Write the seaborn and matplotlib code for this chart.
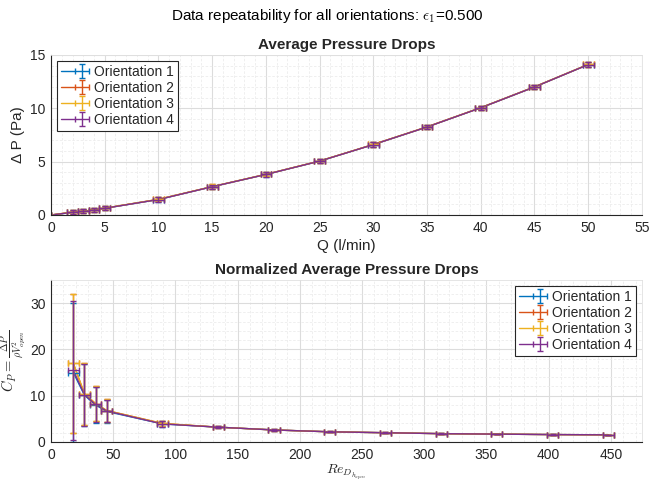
import numpy as np
import pandas as pd
import matplotlib
matplotlib.use("Agg")
import matplotlib.pyplot as plt
import seaborn as sns
from matplotlib.legend_handler import HandlerTuple

# ---------------- data ----------------
orientations = ["Orientation 1", "Orientation 2", "Orientation 3", "Orientation 4"]
colors = ["#0072BD", "#D95319", "#EDB120", "#7E2F8E"]

Q = [0, 2, 3, 4, 5, 10, 15, 20, 25, 30, 35, 40, 45, 50]
dP_o1 = [0, 0.24, 0.34, 0.48, 0.63, 1.45, 2.65, 3.80, 5.05, 6.60, 8.25, 10.05, 12.00, 14.10]
dP_o2 = [0, 0.27, 0.35, 0.49, 0.64, 1.47, 2.66, 3.81, 5.06, 6.61, 8.26, 10.06, 12.01, 14.11]
dP_o3 = [0, 0.27, 0.35, 0.49, 0.64, 1.47, 2.66, 3.81, 5.06, 6.61, 8.26, 10.06, 12.01, 14.11]
dP_o4 = [0, 0.25, 0.34, 0.48, 0.63, 1.45, 2.65, 3.80, 5.05, 6.60, 8.25, 10.05, 12.00, 14.10]
dP_err = [0.0, 0.2, 0.2, 0.2, 0.2, 0.2, 0.2, 0.2, 0.2, 0.2, 0.2, 0.2, 0.2, 0.2]
Q_err = [0.0, 0.5, 0.5, 0.5, 0.5, 0.5, 0.5, 0.5, 0.5, 0.5, 0.5, 0.5, 0.5, 0.5]

Re = [17.9, 26.9, 35.8, 44.8, 89.6, 134.4, 179.2, 224.0, 268.8, 313.6, 358.4, 403.2, 448.0]
Cp_o1 = [15.0, 10.1, 8.0, 6.6, 3.9, 3.2, 2.6, 2.2, 2.0, 1.8, 1.7, 1.6, 1.55]
Cp_o2 = [17.0, 10.4, 8.3, 6.8, 4.0, 3.2, 2.6, 2.2, 2.0, 1.8, 1.7, 1.6, 1.55]
Cp_o3 = [17.0, 10.4, 8.3, 6.8, 4.0, 3.2, 2.6, 2.2, 2.0, 1.8, 1.7, 1.6, 1.55]
Cp_o4 = [15.5, 10.2, 8.1, 6.7, 3.9, 3.2, 2.6, 2.2, 2.0, 1.8, 1.7, 1.6, 1.55]
Cp_err = [15.0, 6.7, 3.8, 2.4, 0.6, 0.27, 0.15, 0.1, 0.07, 0.05, 0.04, 0.03, 0.02]
Re_err = [4.5, 4.5, 4.5, 4.5, 4.5, 4.5, 4.5, 4.5, 4.5, 4.5, 4.5, 4.5, 4.5]

dP_all = [dP_o1, dP_o2, dP_o3, dP_o4]
Cp_all = [Cp_o1, Cp_o2, Cp_o3, Cp_o4]

# ---------------- style ----------------
sns.set_theme(style="white")
plt.rcParams["font.family"] = ["Liberation Sans", "DejaVu Sans"]
plt.rcParams["mathtext.fontset"] = "cm"

fig = plt.figure(figsize=(6.55, 4.84), dpi=100)
ax1 = fig.add_axes([0.0779, 0.5558, 0.9021, 0.3306])
ax2 = fig.add_axes([0.0779, 0.0868, 0.9021, 0.3347])

dfP = pd.DataFrame({
    "Q": Q * 4,
    "dP": sum(dP_all, []),
    "orient": sum([[o] * len(Q) for o in orientations], []),
})
dfC = pd.DataFrame({
    "Re": Re * 4,
    "Cp": sum(Cp_all, []),
    "orient": sum([[o] * len(Re) for o in orientations], []),
})

pal = dict(zip(orientations, colors))
sns.lineplot(data=dfP, x="Q", y="dP", hue="orient", palette=pal, ax=ax1,
             legend=False, linewidth=1.0, sort=False, estimator=None)
sns.lineplot(data=dfC, x="Re", y="Cp", hue="orient", palette=pal, ax=ax2,
             legend=False, linewidth=1.0, sort=False, estimator=None)

h1, h2 = [], []
for i, o in enumerate(orientations):
    c = colors[i]
    eb = ax1.errorbar(Q, dP_all[i], yerr=dP_err, xerr=Q_err, fmt="none",
                      ecolor=c, elinewidth=1.0, capsize=2.2, capthick=1.0)
    ln = ax1.lines[i]
    h1.append((ln, eb))
    eb2 = ax2.errorbar(Re, Cp_all[i], yerr=Cp_err, xerr=Re_err, fmt="none",
                       ecolor=c, elinewidth=1.0, capsize=2.2, capthick=1.0)
    ln2 = ax2.lines[i]
    h2.append((ln2, eb2))

for ax in (ax1, ax2):
    ax.set_facecolor("white")
    ax.minorticks_on()
    ax.grid(True, which="major", color="#dcdcdc", linewidth=0.8, linestyle="-")
    ax.grid(True, which="minor", color="#ececec", linewidth=0.6, linestyle=(0, (3, 2)))
    ax.set_axisbelow(True)
    for s in ("top", "right"):
        ax.spines[s].set_color("#e0e0e0")
        ax.spines[s].set_linewidth(0.6)
    for s in ("left", "bottom"):
        ax.spines[s].set_color("#262626")
        ax.spines[s].set_linewidth(0.8)
    ax.tick_params(which="major", direction="in", length=4, width=0.8,
                   colors="#262626", labelsize=10, pad=4)
    ax.tick_params(which="minor", length=0)

ax1.set_xlim(0, 55)
ax1.set_ylim(0, 15)
ax1.set_xticks(np.arange(0, 56, 5))
ax1.set_yticks([0, 5, 10, 15])
ax1.set_xlabel("Q (l/min)", fontsize=11, color="#262626", labelpad=3)
ax1.set_ylabel("Δ P (Pa)", fontsize=11, color="#262626", labelpad=4)
ax1.set_title("Average Pressure Drops", fontsize=11, fontweight="bold", pad=4)

ax2.set_xlim(0, 475)
ax2.set_ylim(0, 35)
ax2.set_xticks(np.arange(0, 451, 50))
ax2.set_yticks([0, 10, 20, 30])
ax2.set_xlabel(r"$Re_{D_{h_{open}}}$", fontsize=10, color="#262626", labelpad=1)
ax2.set_ylabel(r"$C_P = \frac{\Delta P}{\rho V_{open}^2}$", fontsize=10.5, color="#262626", labelpad=1)
ax2.set_title("Normalized Average Pressure Drops", fontsize=11, fontweight="bold", pad=4)

leg_kw = dict(fontsize=10, frameon=True, fancybox=False, edgecolor="#262626",
              framealpha=1.0, borderpad=0.3, labelspacing=0.15, handlelength=2.0,
              handletextpad=0.4, borderaxespad=0.4,
              handler_map={tuple: HandlerTuple(ndivide=None, pad=0)})
l1 = ax1.legend(h1, orientations, loc="upper left", **leg_kw)
l2 = ax2.legend(h2, orientations, loc="upper right", **leg_kw)
for l in (l1, l2):
    l.get_frame().set_linewidth(0.8)

fig.suptitle(r"Data repeatability for all orientations: $\epsilon_1$=0.500",
             fontsize=11, y=0.985, color="#000000")

fig.savefig("out.png", dpi=100)
